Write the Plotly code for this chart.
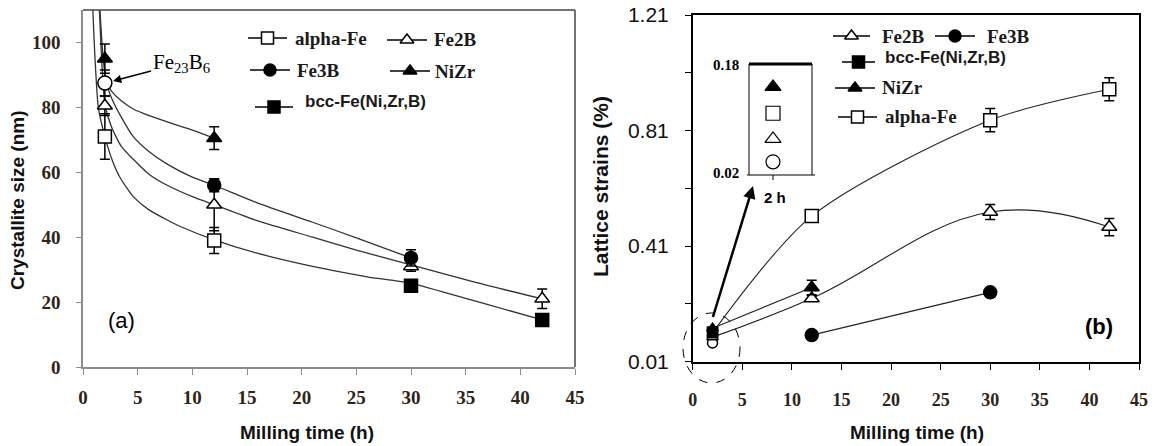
import plotly.graph_objects as go

W, H = 1159, 446

# ---------------- panel (a) data : crystallite size (nm) ----------------
a_alpha_t = [2, 12]
a_alpha = [71, 39]
a_alpha_err = [7, 4]

a_fe2b_t = [2, 12, 30, 42]
a_fe2b = [80.5, 50, 31, 21]
a_fe2b_err = [3, 8, 1.5, 3]

a_fe3b_t = [12, 30]
a_fe3b = [56, 33.6]
a_fe3b_err = [2, 2.5]

a_nizr_t = [2, 12]
a_nizr = [95, 70.5]
a_nizr_err = [4.5, 3.5]

a_bcc_t = [30, 42]
a_bcc = [25, 14.5]
a_bcc_err = [1.5, 1]

a_fe23b6_t = [2]
a_fe23b6 = [87.5]
a_fe23b6_err = [4]

# fitted trend curves of panel (a)
trend_fe3b_t = [1.55, 1.8, 2.1, 2.6, 3.5, 4.6, 6, 7.7, 10, 12, 16, 21, 25, 30]
trend_fe3b = [110, 97, 88, 83, 77, 71, 66.5, 62.5, 58.5, 56, 50.5, 44.6, 39.8, 33.6]
trend_fe2b_t = [1.5, 1.75, 2, 2.6, 3.5, 4.6, 6, 7.7, 10, 12, 16, 21, 25, 30, 36, 42]
trend_fe2b = [110, 92, 81, 74, 68, 64, 59.5, 56, 52.5, 50, 45, 40, 36, 31.5, 26, 21]
trend_alpha_t = [0.9, 1.1, 1.4, 2, 2.7, 3.4, 4.6, 6, 7.7, 8.9, 12, 16, 21, 26, 30, 36, 42]
trend_alpha = [110, 95, 80, 71, 63.5, 58.3, 52.5, 48.5, 45.3, 43.3, 39.2, 35, 31, 27.8, 25.8, 20.2, 14.5]
trend_nizr_t = [2.1, 2.6, 3.5, 4.6, 6, 7.7, 10, 12]
trend_nizr = [88, 85, 82, 79.5, 77.5, 75.5, 73, 70.5]

# ---------------- panel (b) data : lattice strains (%) ----------------
b_alpha_t = [2, 12, 30, 42]
b_alpha = [0.11, 0.514, 0.846, 0.953]
b_alpha_err = [0, 0, 0.04, 0.04]

b_fe2b_t = [2, 12, 30, 42]
b_fe2b = [0.095, 0.229, 0.528, 0.476]
b_fe2b_err = [0, 0.01, 0.026, 0.03]

b_fe3b_t = [12, 30]
b_fe3b = [0.102, 0.25]
b_fe3b_err = [0, 0.012]

b_nizr_t = [2, 12]
b_nizr = [0.126, 0.267]
b_nizr_err = [0, 0.025]

b_bcc_t = [2]
b_bcc = [0.113]

b_fe23b6_t = [2]
b_fe23b6 = [0.075]

# inset (values at 2 h): NiZr, alpha-Fe, Fe2B, Fe23B6
inset_t = [2]
inset_vals = [0.147, 0.109, 0.072, 0.039]

x_ticks = [0, 5, 10, 15, 20, 25, 30, 35, 40, 45]
a_y_ticks = [0, 20, 40, 60, 80, 100]
b_y_ticks = [0.01, 0.21, 0.41, 0.61, 0.81, 1.01, 1.21]
b_y_text = ["0.01", "", "0.41", "", "0.81", "", "1.21"]


def px(x):
    return x / W


def py(y):
    return 1 - y / H


SERIF = "Liberation Serif, Times New Roman, serif"
SANS = "Liberation Sans, Arial, sans-serif"
LINE = "#333333"

fig = go.Figure()


def mk(symbol, filled, size):
    return dict(symbol=symbol, size=size, color="#000000" if filled else "#ffffff",
                opacity=1, line=dict(color="#000000", width=1.5))


def eb(arr, w=5):
    return dict(type="data", array=arr, visible=True, color="#000000", thickness=1.5, width=w)


# ---- panel (a) trend curves
for tx, ty in [(trend_alpha_t, trend_alpha), (trend_fe2b_t, trend_fe2b),
               (trend_fe3b_t, trend_fe3b), (trend_nizr_t, trend_nizr)]:
    fig.add_trace(go.Scatter(x=tx, y=ty, mode="lines", xaxis="x", yaxis="y",
                             line=dict(color=LINE, width=1.3, shape="spline", smoothing=0.6),
                             hoverinfo="skip", showlegend=False))

# ---- panel (a) markers
a_series = [
    (a_alpha_t, a_alpha, a_alpha_err, "square", False, 13),
    (a_fe2b_t, a_fe2b, a_fe2b_err, "triangle-up", False, 13),
    (a_fe3b_t, a_fe3b, a_fe3b_err, "circle", True, 13),
    (a_bcc_t, a_bcc, a_bcc_err, "square", True, 13),
    (a_nizr_t, a_nizr, a_nizr_err, "triangle-up", True, 13),
    (a_fe23b6_t, a_fe23b6, a_fe23b6_err, "circle", False, 14),
]
for tx, ty, te, sym, fill, sz in a_series:
    fig.add_trace(go.Scatter(x=tx, y=ty, mode="markers", xaxis="x", yaxis="y",
                             marker=mk(sym, fill, sz), error_y=eb(te),
                             showlegend=False, cliponaxis=False))

# ---- panel (b) lines
for tx, ty, sm in [(b_alpha_t, b_alpha, 0.8), (b_fe2b_t, b_fe2b, 1.2),
                   (b_fe3b_t, b_fe3b, 0.8), (b_nizr_t, b_nizr, 0.8)]:
    fig.add_trace(go.Scatter(x=tx, y=ty, mode="lines", xaxis="x2", yaxis="y2",
                             line=dict(color="#222222", width=1.1, shape="spline", smoothing=sm),
                             hoverinfo="skip", showlegend=False))

# ---- panel (b) markers: small ones at 2 h (inside the dashed ellipse), larger elsewhere
b_series = [
    (b_fe23b6_t, b_fe23b6, [0], "circle", False),
    (b_fe2b_t, b_fe2b, b_fe2b_err, "triangle-up", False),
    (b_alpha_t, b_alpha, b_alpha_err, "square", False),
    (b_bcc_t, b_bcc, [0], "square", True),
    (b_fe3b_t, b_fe3b, b_fe3b_err, "circle", True),
    (b_nizr_t, b_nizr, b_nizr_err, "triangle-up", True),
]
for tx, ty, te, sym, fill in b_series:
    early = [i for i, t in enumerate(tx) if t == 2]
    late = [i for i, t in enumerate(tx) if t != 2]
    for idx, sz in [(early, 10), (late, 13)]:
        if not idx:
            continue
        fig.add_trace(go.Scatter(x=[tx[i] for i in idx], y=[ty[i] for i in idx],
                                 mode="markers", xaxis="x2", yaxis="y2",
                                 marker=mk(sym, fill, sz),
                                 error_y=eb([te[i] for i in idx], 5),
                                 showlegend=False, cliponaxis=False))

# ---- inset
for v, sym, fill in zip(inset_vals, ["triangle-up", "square", "triangle-up", "circle"],
                        [True, False, False, False]):
    fig.add_trace(go.Scatter(x=inset_t, y=[v], mode="markers", xaxis="x3", yaxis="y3",
                             marker=dict(symbol=sym, size=14, color="#000000" if fill else "#ffffff",
                                         line=dict(color="#000000", width=1.2)),
                             showlegend=False, cliponaxis=False))

# ---- legend glyphs (overlay pixel axes)
leg_items = [
    # x0, x1, y, symbol, filled
    (248, 287, 38, "square", False),
    (387, 427, 40, "triangle-up", False),
    (250, 290, 70, "circle", True),
    (390, 430, 71, "triangle-up", True),
    (255, 293, 107, "square", True),
    (833, 870, 36, "triangle-up", False),
    (935, 975, 36, "circle", True),
    (842, 875, 62, "square", True),
    (835, 875, 88, "triangle-up", True),
    (838, 877, 117, "square", False),
]
for x0, x1, yy, sym, fill in leg_items:
    fig.add_trace(go.Scatter(x=[x0, x1], y=[yy, yy], mode="lines", xaxis="x4", yaxis="y4",
                             line=dict(color="#000000", width=1.3),
                             showlegend=False, hoverinfo="skip", cliponaxis=False))
    fig.add_trace(go.Scatter(x=[(x0 + x1) / 2], y=[yy], mode="markers", xaxis="x4", yaxis="y4",
                             marker=mk(sym, fill, 12),
                             showlegend=False, hoverinfo="skip", cliponaxis=False))

ann = []


def text(x, y, s, size, family, bold=True, anchor="left", color="#1a1a1a", angle=0):
    ann.append(dict(x=px(x), y=py(y), xref="paper", yref="paper", text=s, showarrow=False,
                    xanchor=anchor, yanchor="middle", textangle=angle,
                    font=dict(size=size, family=family, color=color,
                              weight="bold" if bold else "normal")))


# legend texts panel (a)
text(293, 38, "alpha-Fe", 19, SERIF)
text(432, 39, "Fe2B", 19, SERIF)
text(295, 70, "Fe3B", 19, SERIF)
text(433, 71, "NiZr", 19, SERIF)
text(303, 101, "bcc-Fe(Ni,Zr,B)", 17, SANS)
# legend texts panel (b)
text(880, 36, "Fe2B", 19, SERIF)
text(985, 36, "Fe3B", 19, SERIF)
text(883, 57, "bcc-Fe(Ni,Zr,B)", 17, SANS)
text(880, 87, "NiZr", 19, SERIF)
text(883, 117, "alpha-Fe", 19, SERIF)

text(121, 320, "(a)", 22, SANS, bold=False, anchor="center", color="#000000")
text(1099, 326, "(b)", 22, SANS, anchor="center", color="#000000")

# axis titles
text(307, 432, "Milling time (h)", 19, SANS, anchor="center", color="#111111")
text(917, 432, "Milling time (h)", 19, SANS, anchor="center", color="#111111")
text(18, 200, "Crystallite size (nm)", 19, SANS, anchor="center", color="#111111", angle=-90)
text(600, 187, "Lattice strains (%)", 21, SANS, anchor="center", color="#111111", angle=-90)

# inset labels
text(741, 65, "0.18", 15, SERIF, anchor="right", color="#000000")
text(741, 173, "0.02", 15, SERIF, anchor="right", color="#000000")
text(775, 197, "2 h", 15, SANS, anchor="center", color="#000000")

# Fe23B6 label with arrow
ann.append(dict(x=px(113), y=py(81), xref="paper", yref="paper",
                text="Fe<sub>23</sub>B<sub>6</sub>", showarrow=True,
                ax=68, ay=-18, arrowhead=2, arrowsize=1.1, arrowwidth=1.5, arrowcolor="#000000",
                standoff=0, font=dict(size=21, family=SERIF, color="#000000")))
# arrow from circled region to inset
ann.append(dict(x=px(753), y=py(186), xref="paper", yref="paper", text=" ", showarrow=True,
                ax=-41, ay=134, arrowhead=2, arrowsize=1, arrowwidth=2.5, arrowcolor="#000000",
                standoff=0, font=dict(size=2)))


def hline(x0, x1, y, color="#000000", width=1.0):
    return dict(type="line", xref="paper", yref="paper", x0=px(x0), x1=px(x1), y0=py(y), y1=py(y),
                line=dict(color=color, width=width))


def vline(x, y0, y1, color="#000000", width=1.0):
    return dict(type="line", xref="paper", yref="paper", x0=px(x), x1=px(x), y0=py(y0), y1=py(y1),
                line=dict(color=color, width=width))


shapes = [
    # panel (a) top and right frame
    hline(83, 575, 10, "#444444", 1.5),
    vline(575, 10, 367, "#444444", 1.5),
    # inset frame
    hline(749, 812, 64, "#000000", 3),
    vline(749, 64, 175), vline(812, 64, 175),
    hline(747, 815, 175),
    vline(773, 175, 180),
    # dashed ellipse around 2 h points
    dict(type="circle", xref="paper", yref="paper", x0=px(683), x1=px(740), y0=py(383), y1=py(313),
         line=dict(color="#000000", width=1, dash="dash")),
]

tick_serif = dict(size=19, family=SERIF, color="#2e2418", weight="bold")

fig.update_layout(
    template="none",
    width=W, height=H, margin=dict(l=0, r=0, t=0, b=0, pad=0, autoexpand=False),
    paper_bgcolor="white", plot_bgcolor="rgba(0,0,0,0)",
    showlegend=False, annotations=ann, shapes=shapes,
    xaxis=dict(domain=[px(83), px(575)], range=[0, 45], tickvals=x_ticks, ticks="outside",
               ticklen=6, tickcolor="#8c8c8c", tickwidth=1, showline=True, linecolor="#8c8c8c",
               linewidth=1.5, showgrid=False, zeroline=False, tickfont=tick_serif,
               ticklabelstandoff=6, anchor="y", automargin=False),
    yaxis=dict(domain=[py(367), py(10)], range=[0, 110], tickvals=a_y_ticks, ticks="outside",
               ticklen=5, tickcolor="#8c8c8c", tickwidth=1, showline=True, linecolor="#8c8c8c",
               linewidth=1.5, showgrid=False, zeroline=False, tickfont=tick_serif,
               ticklabelstandoff=12, anchor="x", automargin=False),
    xaxis2=dict(domain=[px(692.7), px(1139)], range=[0, 45], tickvals=x_ticks, ticks="outside",
                ticklen=7, tickcolor="#000000", tickwidth=1, showline=True, linecolor="#000000",
                linewidth=1.5, mirror=True, showgrid=False, zeroline=False,
                tickfont=dict(size=18, family=SERIF, color="#2e2418", weight="bold"),
                ticklabelstandoff=14, anchor="y2", automargin=False),
    yaxis2=dict(domain=[py(361.7), py(15)], range=[0.01, 1.21], tickvals=b_y_ticks,
                ticktext=b_y_text, ticks="outside", ticklen=6, tickcolor="#000000", tickwidth=1,
                showline=True, linecolor="#000000", linewidth=1.5, mirror=True, showgrid=False,
                zeroline=False, tickfont=dict(size=21, family=SANS, color="#111111"),
                ticklabelstandoff=12, anchor="x2", automargin=False),
    xaxis3=dict(domain=[px(749), px(812)], range=[1.2, 3.3], visible=False, anchor="y3",
                automargin=False),
    yaxis3=dict(domain=[py(175), py(64)], range=[0.02, 0.18], visible=False, anchor="x3",
                automargin=False),
    xaxis4=dict(domain=[0, 1], range=[0, W], visible=False, anchor="y4", fixedrange=True,
                automargin=False),
    yaxis4=dict(domain=[0, 1], range=[H, 0], visible=False, anchor="x4", fixedrange=True,
                automargin=False),
)

fig.write_html("out.html", config={"displayModeBar": False},
               post_script="document.body.style.margin='0';document.body.style.overflow='hidden';")
